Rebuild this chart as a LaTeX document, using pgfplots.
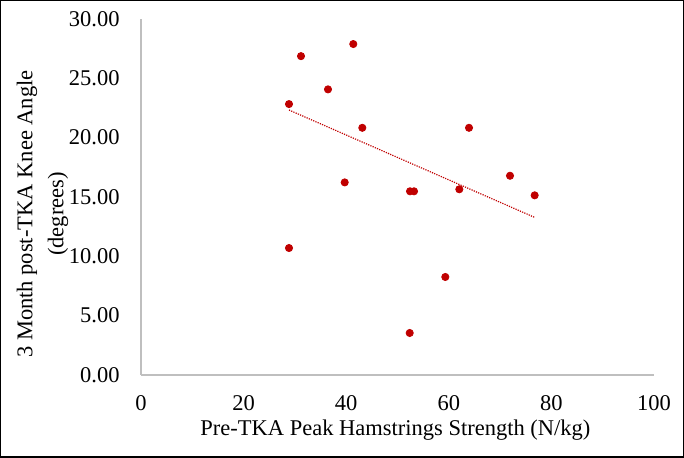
\documentclass[border=0pt]{standalone}
\usepackage{fontspec}
\setmainfont{Liberation Serif}
\usepackage{pgfplots}
\pgfplotsset{compat=1.18}
\definecolor{ptred}{HTML}{C00000}
\definecolor{axgray}{HTML}{BFBFBF}
\begin{document}
\begin{tikzpicture}
\path[use as bounding box] (-70.5pt,-41.5pt) rectangle (271.5pt,187.5pt);
\draw[line width=0.75pt] (-70.125pt,-41.125pt) rectangle (271.125pt,187.125pt);
\begin{axis}[
  at={(0,0)}, anchor=south west,
  scale only axis, width=256.5pt, height=178pt,
  xmin=0, xmax=100, ymin=0, ymax=30,
  enlargelimits=false, clip=false,
  axis x line=bottom, axis y line=left,
  axis line style={draw=axgray, line width=0.6pt, -},
  major tick length=0pt,
  xtick={0,20,40,60,80,100},
  ytick={0,5,10,15,20,25,30},
  /pgf/number format/assume math mode=true,
  yticklabel style={/pgf/number format/fixed, /pgf/number format/fixed zerofill, /pgf/number format/precision=2},
  every tick label/.append style={font=\fontsize{11.25}{13}\selectfont, inner sep=0pt},
  every y tick label/.append style={anchor=east, xshift=-10.5pt},
  every x tick label/.append style={anchor=north, yshift=-10pt},
  xlabel={Pre-TKA Peak Hamstrings Strength (N/kg)},
  every axis x label/.style={at={(axis description cs:0.496,0)}, anchor=base, yshift=-30.5pt, font=\fontsize{11.25}{13}\selectfont, inner sep=0pt},
  ylabel={3 Month post-TKA Knee Angle\\(degrees)},
  every axis y label/.style={at={(axis description cs:-0.192,0.452)}, rotate=90, anchor=center, align=center, font=\fontsize{11.25}{15.5}\selectfont, inner sep=0pt},
]
\addplot[only marks, mark=*, mark size=1.8pt, mark options={fill=ptred, draw=ptred}] coordinates {
(28.85,22.83) (31.19,26.87) (41.38,27.89) (36.45,24.07) (43.14,20.83)
(39.71,16.23) (28.85,10.70) (52.44,15.48) (53.22,15.48) (62.05,15.65)
(63.94,20.83) (71.93,16.79) (76.74,15.14) (59.32,8.26) (52.38,3.54)
};
\addplot[ptred, line width=0.6pt, dash pattern=on 0.6pt off 0.6pt] coordinates {
(28.85,22.33) (76.74,13.28)
};
\end{axis}
\end{tikzpicture}
\end{document}
